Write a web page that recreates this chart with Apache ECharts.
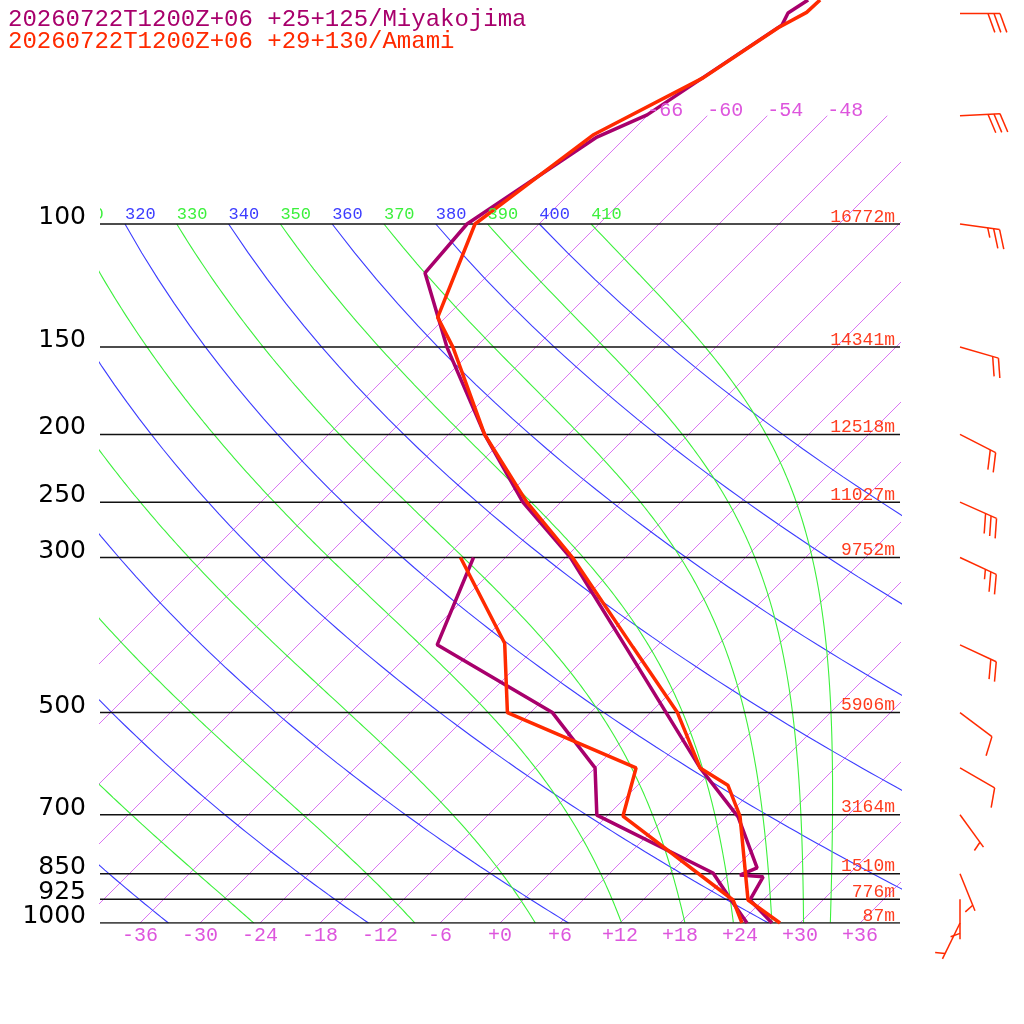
<!DOCTYPE html>
<html>
<head>
<meta charset="utf-8">
<title>Skew-T Miyakojima / Amami</title>
<script src="https://cdn.jsdelivr.net/npm/echarts@6.0.0/dist/echarts.min.js"></script>
<style>
  html, body { margin: 0; padding: 0; background: #fff; }
  #chart { width: 1024px; height: 1024px; }
</style>
</head>
<body>
<div id="chart"></div>
<script>
"use strict";

//
// Sounding data
//
const title_miya = "20260722T1200Z+06 +25+125/Miyakojima";
const title_amami = "20260722T1200Z+06 +29+130/Amami";

// Miyakojima temperature / dewpoint (hPa, degC)
const miya_temp_p = [1000, 927, 859, 854, 834, 705, 600, 403, 300, 250, 200, 150, 117.5, 100, 75.1, 69.8, 51.9, 49.9, 47.8];
const miya_temp_t = [27.2, 22.7, 21.7, 19.2, 20.2, 13.2, 4.5, -15.0, -29.5, -39.8, -50.4, -62.9, -72.5, -73.2, -68.9, -66.1, -61.6, -62.2, -61.5];
const miya_dew_p = [1000, 927, 848, 701, 600, 500, 400, 300];
const miya_dew_t = [24.7, 20.8, 16.3, -1.1, -6.0, -15.8, -34.1, -39.2];

// Amami temperature / dewpoint (hPa, degC)
const amami_temp_p = [1000, 927, 703, 635, 600, 500, 403, 300, 250, 200, 150, 136, 100, 74.6, 61.8, 52.4, 49.8, 47.8];
const amami_temp_t = [28.0, 22.5, 13.3, 9.0, 4.5, -3.3, -14.3, -29.3, -39.4, -50.4, -62.3, -66.8, -72.4, -69.5, -64.2, -61.7, -60.4, -60.3];
const amami_dew_p = [1000, 927, 703, 600, 500, 398, 300];
const amami_dew_t = [24.2, 21.0, 1.6, -1.9, -20.3, -27.5, -40.5];

// Amami winds (hPa, direction deg, speed kt)
const wind_p = [50, 70, 100, 150, 200, 250, 300, 400, 500, 600, 700, 850, 925, 1000];
const wind_dir = [90, 87, 98, 106, 117, 114, 115, 115, 127, 120, 144, 158, 180, 206];
const wind_spd = [30, 30, 25, 20, 20, 30, 25, 20, 10, 10, 5, 5, 5, 5];

// Isobars and their heights
const isobar_p = [100, 150, 200, 250, 300, 500, 700, 850, 925, 1000];
const isobar_height = ["16772m", "14341m", "12518m", "11027m", "9752m", "5906m", "3164m", "1510m", "776m", "87m"];

// Diagram furniture
const isotherm_t = [-66, -60, -54, -48, -42, -36, -30, -24, -18, -12, -6, 0, 6, 12, 18, 24, 30, 36];
const dry_theta = [240, 260, 280, 300, 320, 340, 360, 380, 400];
const moist_theta = [250, 270, 290, 310, 330, 350, 370, 390, 410];
const temp_ticks = [-36, -30, -24, -18, -12, -6, 0, 6, 12, 18, 24, 30, 36];

//
// Geometry of the skew-T
//
const X_MIN = -40;
const X_MAX = 40;
const PLOT_W = 800;
const PLOT_H = 923;
const PX_PER_DEG = PLOT_W / (X_MAX - X_MIN);
const PX_PER_LN = 699 / Math.LN10; // 1000 -> 100 hPa
const Y_MAX = PLOT_H / PX_PER_LN;
const SKEW = PX_PER_LN / PX_PER_DEG; // 45 degree isotherms
const P_ISOTHERM_TOP = 70;
const BARB_X = X_MAX + 60 / PX_PER_DEG;

const RD = 287.04;
const CP = 1005.7;
const LV = 2.501e6;
const EPS = 0.622;
const KAPPA = 0.2857;

const MIYA_COLOR = "#a8006c";
const AMAMI_COLOR = "#ff2a00";
const LABEL_RED = "#ff3c1e";
const ISO_COLOR = "#d050f0";
const ISO_TEXT = "#dd55dd";
const DRY_COLOR = "#3c3cff";
const MOIST_COLOR = "#3cf03c";
const MONO = '"Liberation Mono", "DejaVu Sans Mono", monospace';

const lnp = (p) => Math.log(1000 / p);
const skew_x = (t, p) => t + SKEW * lnp(p);

function profile(p_arr, t_arr) {
  return p_arr.map((p, i) => [skew_x(t_arr[i], p), lnp(p)]);
}

function isotherm(t) {
  return [
    [skew_x(t, 1000), lnp(1000)],
    [skew_x(t, P_ISOTHERM_TOP), lnp(P_ISOTHERM_TOP)],
  ];
}

function dry_adiabat(theta) {
  const pts = [];
  for (let p = 100; p <= 1000; p += 10) {
    const tk = theta * Math.pow(p / 1000, KAPPA);
    pts.push([skew_x(tk - 273.15, p), lnp(p)]);
  }
  return pts;
}

function es_hpa(tk) {
  const tc = tk - 273.15;
  return 6.112 * Math.exp((17.67 * tc) / (tc + 243.5));
}

function moist_lapse(tk, p) {
  const es = es_hpa(tk);
  const rs = (EPS * es) / (p - es);
  return (RD * tk + LV * rs) / (CP + (LV * LV * rs * EPS) / (RD * tk * tk)) / p;
}

// pseudo-adiabat started at 100 hPa on the dry adiabat of the same theta
function moist_adiabat(theta) {
  let tk = theta * Math.pow(0.1, KAPPA);
  const pts = [];
  const dp = 2;
  for (let p = 100; p <= 1000; p += dp) {
    pts.push([skew_x(tk - 273.15, p), lnp(p)]);
    const k1 = moist_lapse(tk, p);
    const k2 = moist_lapse(tk + (k1 * dp) / 2, p + dp / 2);
    const k3 = moist_lapse(tk + (k2 * dp) / 2, p + dp / 2);
    const k4 = moist_lapse(tk + k3 * dp, p + dp);
    tk += (dp * (k1 + 2 * k2 + 2 * k3 + k4)) / 6;
  }
  return pts;
}

function line_series(data, color, width, z) {
  return {
    type: "line",
    data: data,
    symbol: "none",
    clip: true,
    silent: true,
    animation: false,
    z: z,
    lineStyle: { color: color, width: width },
  };
}

function text_series(points, texts, color, font, align, line_height, clip) {
  return {
    type: "custom",
    clip: clip,
    silent: true,
    animation: false,
    z: 5,
    data: points,
    renderItem: (params, api) => {
      const pt = api.coord([api.value(0), api.value(1)]);
      return {
        type: "text",
        x: pt[0],
        y: pt[1],
        style: {
          text: texts[params.dataIndex],
          fill: color,
          font: font,
          align: align,
          verticalAlign: "bottom",
          lineHeight: line_height,
        },
      };
    },
  };
}

//
// Series
//
const series = [];

isotherm_t.forEach((t) => series.push(line_series(isotherm(t), ISO_COLOR, 0.8, 1)));
dry_theta.forEach((th) => series.push(line_series(dry_adiabat(th), DRY_COLOR, 1.1, 1)));
moist_theta.forEach((th) => series.push(line_series(moist_adiabat(th), MOIST_COLOR, 1.1, 1)));
isobar_p.forEach((p) =>
  series.push(line_series([[X_MIN, lnp(p)], [X_MAX, lnp(p)]], "#111", 1.5, 2))
);

series.push(line_series(profile(miya_dew_p, miya_dew_t), MIYA_COLOR, 3.5, 3));
series.push(line_series(profile(miya_temp_p, miya_temp_t), MIYA_COLOR, 3.5, 3));
series.push(line_series(profile(amami_dew_p, amami_dew_t), AMAMI_COLOR, 3.5, 4));
series.push(line_series(profile(amami_temp_p, amami_temp_t), AMAMI_COLOR, 3.5, 4));

// adiabat labels along 100 hPa
const theta_top_x = (th) => skew_x(th * Math.pow(0.1, KAPPA) - 273.15, 100);
series.push(
  text_series(
    dry_theta.map((th) => [theta_top_x(th), lnp(100)]),
    dry_theta.map(String), DRY_COLOR, "17px " + MONO, "left", 19, true
  )
);
series.push(
  text_series(
    moist_theta.map((th) => [theta_top_x(th), lnp(100)]),
    moist_theta.map(String), MOIST_COLOR, "17px " + MONO, "left", 19, true
  )
);

// isotherm labels at the top end (only where they fit)
const iso_top = isotherm_t.filter((t) => {
  const x = skew_x(t, P_ISOTHERM_TOP);
  return x >= X_MIN && x <= X_MAX - 4;
});
series.push(
  text_series(
    iso_top.map((t) => [skew_x(t, P_ISOTHERM_TOP), lnp(P_ISOTHERM_TOP)]),
    iso_top.map(String), ISO_TEXT, "20px " + MONO, "left", 11, true
  )
);

// heights on the right
series.push(
  text_series(
    isobar_p.map((p) => [X_MAX - 0.5, lnp(p)]),
    isobar_height, LABEL_RED, "18px " + MONO, "right", 14, false
  )
);

// pressure labels on the left
series.push(
  text_series(
    isobar_p.map((p) => [X_MIN - 1.4, lnp(p)]),
    isobar_p.map(String), "#000", '25px "DejaVu Sans"', "right", 13, false
  )
);

// wind barbs
series.push({
  type: "custom",
  clip: false,
  silent: true,
  animation: false,
  z: 6,
  data: wind_p.map((p) => [BARB_X, lnp(p)]),
  renderItem: (params, api) => {
    const i = params.dataIndex;
    const pt = api.coord([api.value(0), api.value(1)]);
    const d = (wind_dir[i] * Math.PI) / 180;
    const ux = Math.sin(d);
    const uy = -Math.cos(d);
    const staff = 40;
    const tx = pt[0] + ux * staff;
    const ty = pt[1] + uy * staff;
    const a = Math.atan2(uy, ux) + (70 * Math.PI) / 180;
    const fx = Math.cos(a);
    const fy = Math.sin(a);
    const style = { stroke: AMAMI_COLOR, lineWidth: 1.5 };
    const children = [
      { type: "line", shape: { x1: pt[0], y1: pt[1], x2: tx, y2: ty }, style: style },
    ];
    const full = Math.floor(wind_spd[i] / 10);
    const half = wind_spd[i] % 10 >= 5 ? 1 : 0;
    let k = 0;
    for (let j = 0; j < full; j++) {
      const bx = tx - ux * 6 * k;
      const by = ty - uy * 6 * k;
      children.push({ type: "line", shape: { x1: bx, y1: by, x2: bx + fx * 20, y2: by + fy * 20 }, style: style });
      k++;
    }
    if (half) {
      if (k === 0) k = 1;
      const bx = tx - ux * 6 * k;
      const by = ty - uy * 6 * k;
      children.push({ type: "line", shape: { x1: bx, y1: by, x2: bx + fx * 10, y2: by + fy * 10 }, style: style });
    }
    return { type: "group", children: children };
  },
});

//
// Chart
//
const chart = echarts.init(document.getElementById("chart"));
chart.setOption({
  animation: false,
  backgroundColor: "#fff",
  grid: { left: 100, top: 0, width: PLOT_W, height: PLOT_H },
  xAxis: {
    type: "value",
    min: X_MIN,
    max: X_MAX,
    axisLine: { show: false },
    axisTick: { show: false },
    splitLine: { show: false },
    axisLabel: {
      customValues: temp_ticks,
      formatter: (v) => (v >= 0 ? "+" + v : String(v)),
      color: ISO_TEXT,
      fontFamily: MONO,
      fontSize: 20,
      margin: 3,
    },
  },
  yAxis: {
    type: "value",
    min: 0,
    max: Y_MAX,
    axisLine: { show: false },
    axisTick: { show: false },
    splitLine: { show: false },
    axisLabel: { show: false },
  },
  graphic: [
    {
      type: "text",
      x: 8,
      y: 7.5,
      style: { text: title_miya, fill: MIYA_COLOR, font: "24px " + MONO, verticalAlign: "top", lineHeight: 24 },
    },
    {
      type: "text",
      x: 8,
      y: 30,
      style: { text: title_amami, fill: AMAMI_COLOR, font: "24px " + MONO, verticalAlign: "top", lineHeight: 24 },
    },
  ],
  series: series,
});
</script>
</body>
</html>
